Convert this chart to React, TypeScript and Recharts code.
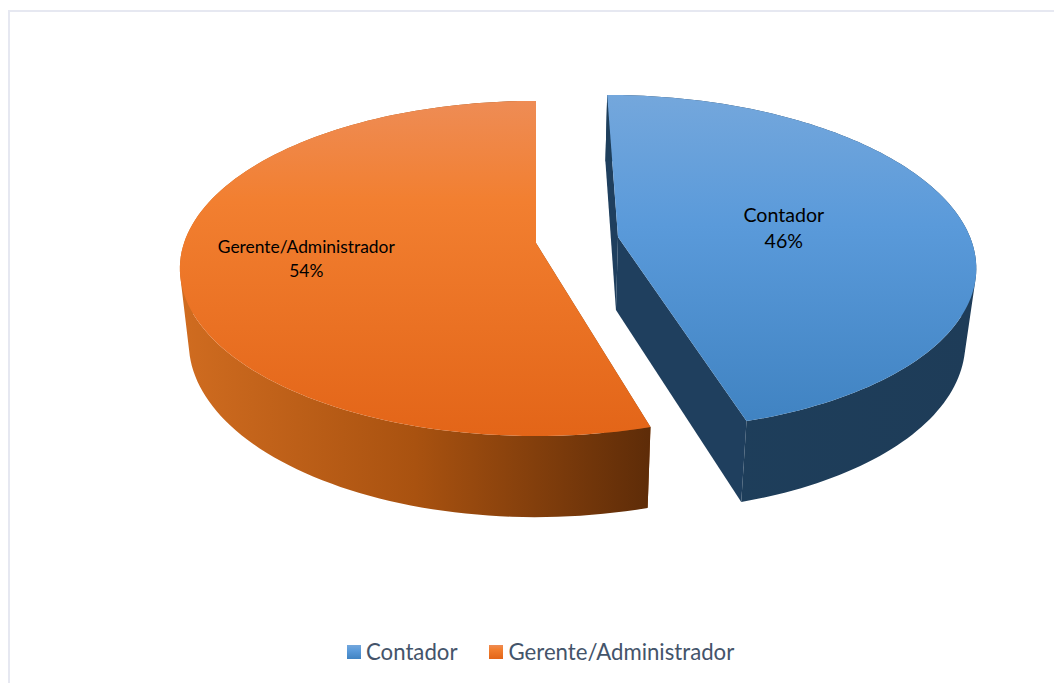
import React from 'react';
import { PieChart, Pie, Legend } from 'recharts';

const categories = ['Contador', 'Gerente/Administrador'];
const shares = [45.52, 54.48];
const topFills = ['url(#topBlue)', 'url(#topOrange)'];

// how far each slice is pulled out of the pie, and where its label sits
const explode: Record<string, { x: number; y: number }> = {
  Contador: { x: 82, y: -6 },
  'Gerente/Administrador': { x: 0, y: 0 },
};
const labelSpot: Record<string, { f: number; dy: number; size: number; gap: number }> = {
  Contador: { f: 0.483, dy: 2, size: 19.6, gap: 26 },
  'Gerente/Administrador': { f: 0.65, dy: 1, size: 17.4, gap: 24 },
};
const wallFills: Record<string, string> = {
  Contador: 'url(#wallBlue)',
  'Gerente/Administrador': 'url(#wallOrange)',
};

const data = categories.map((name, i) => ({ name, value: shares[i], fill: topFills[i] }));

// fake perspective settings for the tilted pie
const SQUASH = 0.465;
const TILT = 0.152;
const DEPTH = 73;
const DEPTH_TILT = 0.1;
const SHRINK = 0.025;
const RAD = Math.PI / 180;

type Pt = { x: number; y: number };

function project(cx: number, cy: number, r: number, name: string, angle: number, f: number, z: number): Pt {
  const off = explode[name];
  const sin = Math.sin(angle * RAD);
  const w = 1 + TILT * f * sin;
  const X = off.x + r * f * Math.cos(angle * RAD);
  return {
    x: cx + (X * (1 - SHRINK * z)) / w,
    y: cy + off.y - (r * SQUASH * f * sin) / w + (z * DEPTH) / (1 + DEPTH_TILT * f * sin),
  };
}

function toPath(pts: Pt[]) {
  return pts.map((p, i) => `${i ? 'L' : 'M'}${p.x.toFixed(2)},${p.y.toFixed(2)}`).join(' ') + ' Z';
}

// same winding for every quad, otherwise nonzero fill cancels where they overlap
function wound(pts: Pt[]) {
  let area = 0;
  pts.forEach((p, i) => {
    const q = pts[(i + 1) % pts.length];
    area += p.x * q.y - q.x * p.y;
  });
  return area < 0 ? pts.slice().reverse() : pts;
}

function Slice3D(props: any) {
  const { cx, cy, outerRadius, startAngle, endAngle, name, fill } = props;
  const at = (a: number, f: number, z: number) => project(cx, cy, outerRadius, name, a, f, z);
  const rim: number[] = [];
  const steps = 120;
  for (let i = 0; i <= steps; i++) rim.push(startAngle + ((endAngle - startAngle) * i) / steps);

  const top = [at(0, 0, 0), ...rim.map((a) => at(a, 1, 0))];
  const side1 = [at(0, 0, 0), at(startAngle, 1, 0), at(startAngle, 1, 1), at(0, 0, 1)];
  const side2 = [at(0, 0, 0), at(endAngle, 1, 0), at(endAngle, 1, 1), at(0, 0, 1)];
  const sideFill = name === 'Contador' ? '#1F3F5E' : '#8B4510';
  const outer = rim
    .slice(1)
    .map((a, i) => toPath(wound([at(rim[i], 1, 0), at(a, 1, 0), at(a, 1, 1), at(rim[i], 1, 1)])))
    .join(' ');

  return (
    <g>
      <path d={toPath(side1)} fill={sideFill} />
      <path d={toPath(side2)} fill={sideFill} />
      <path d={outer} fill={wallFills[name]} />
      <path d={toPath(top)} fill={fill} />
    </g>
  );
}

function SliceLabel(props: any) {
  const { cx, cy, outerRadius, midAngle, name, percent } = props;
  const spot = labelSpot[name];
  const p = project(cx, cy, outerRadius, name, midAngle, spot.f, 0);
  return (
    <text x={p.x} y={p.y + spot.dy} textAnchor="middle" fontFamily="Lato" fontSize={spot.size} fill="#000">
      <tspan x={p.x} dy={-6}>{name}</tspan>
      <tspan x={p.x} dy={spot.gap}>{Math.round(percent * 100)}%</tspan>
    </text>
  );
}

function LegendRow({ payload }: any) {
  return (
    <div style={{ display: 'flex', alignItems: 'center', gap: 32 }}>
      {(payload || []).map((entry: any) => (
        <div key={entry.value} style={{ display: 'flex', alignItems: 'center', gap: 5 }}>
          <svg width={14} height={14}>
            <rect width={14} height={14} fill={entry.color} />
          </svg>
          <span style={{ color: '#44546A', fontFamily: 'Lato', fontSize: 22.2, lineHeight: '26px' }}>{entry.value}</span>
        </div>
      ))}
    </div>
  );
}

export default function App() {
  return (
    <div style={{ position: 'absolute', left: 0, top: 0, width: 1054, height: 683, background: '#fff', overflow: 'hidden' }}>
      <div style={{ position: 'absolute', left: 8, top: 10, right: 0, bottom: 0, borderTop: '2px solid #E6E8F1', borderLeft: '2px solid #E6E8F1' }} />
      <PieChart width={1054} height={683} margin={{ top: 0, right: 0, bottom: 0, left: 0 }} style={{ position: 'absolute' }}>
        <defs>
          <linearGradient id="topBlue" x1="0" y1="0" x2="0" y2="1">
            <stop offset="0" stopColor="#74A7DC" />
            <stop offset="0.4" stopColor="#5A9ADA" />
            <stop offset="1" stopColor="#4083C2" />
          </linearGradient>
          <linearGradient id="topOrange" x1="0" y1="0" x2="0" y2="1">
            <stop offset="0" stopColor="#EE8C55" />
            <stop offset="0.3" stopColor="#F27F30" />
            <stop offset="1" stopColor="#E36518" />
          </linearGradient>
          <linearGradient id="wallBlue" gradientUnits="userSpaceOnUse" x1="606" y1="0" x2="975" y2="0">
            <stop offset="0" stopColor="#1E3F5C" />
            <stop offset="1" stopColor="#1E3C58" />
          </linearGradient>
          <linearGradient id="wallOrange" gradientUnits="userSpaceOnUse" x1="180" y1="0" x2="650" y2="0">
            <stop offset="0" stopColor="#D06C20" />
            <stop offset="0.5" stopColor="#A95210" />
            <stop offset="1" stopColor="#5E2C08" />
          </linearGradient>
        </defs>
        <Pie
          data={data}
          dataKey="value"
          nameKey="name"
          cx={536}
          cy={243}
          outerRadius={352}
          startAngle={90}
          endAngle={-270}
          stroke="none"
          shape={Slice3D}
          label={SliceLabel}
          labelLine={false}
          isAnimationActive={false}
        />
        <Legend
          verticalAlign="bottom"
          content={LegendRow}
          wrapperStyle={{ left: 347, bottom: 18, width: 500 }}
        />
      </PieChart>
    </div>
  );
}
